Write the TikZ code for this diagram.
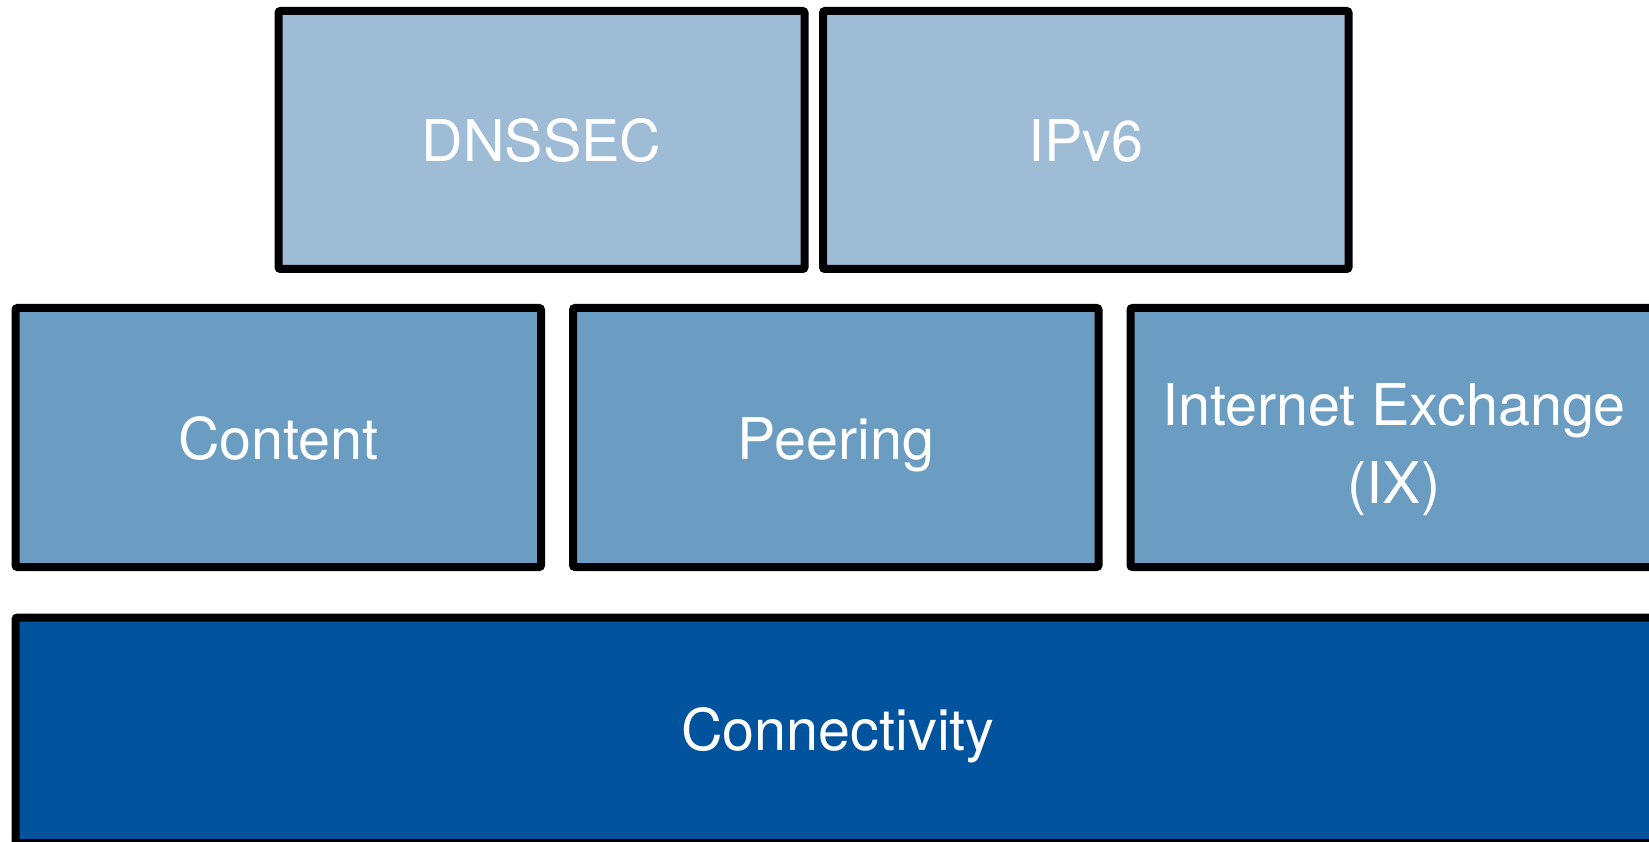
\documentclass[tikz,border=0pt]{standalone}
\usepackage{fontspec}
\setmainfont{TeX Gyre Heros}
\definecolor{topfill}{RGB}{158,188,214}
\definecolor{midfill}{RGB}{107,156,194}
\definecolor{botfill}{RGB}{0,83,156}
\tikzset{
  box/.style={draw=black, line width=8pt, rounded corners=2pt, inner sep=0pt, outer sep=0pt},
  lbl/.style={text=white, anchor=base, inner sep=0pt, font=\fontsize{57.5}{78}\selectfont}
}
\begin{document}
\begin{tikzpicture}[x=1pt,y=-1pt]
\useasboundingbox (0,0) rectangle (1649,842);
\clip (0,0) rectangle (1649,842);
% top row
\node[box, fill=topfill, minimum width=526pt, minimum height=258pt] (dnssec) at (541.5,140) {};
\node[box, fill=topfill, minimum width=525.5pt, minimum height=258pt] (ipv6) at (1085.75,140) {};
% middle row
\node[box, fill=midfill, minimum width=525.5pt, minimum height=259pt] (content) at (278.25,437.5) {};
\node[box, fill=midfill, minimum width=525.5pt, minimum height=259pt] (peering) at (835.75,437.5) {};
\node[box, fill=midfill, minimum width=527.5pt, minimum height=259pt] (ix) at (1394.25,437.5) {};
% bottom row
\node[box, fill=botfill, minimum width=1645.5pt, minimum height=225.5pt] (conn) at (838.25,730.25) {};
% labels
\node[lbl] (tdnssec) at (541.5,162) {DNSSEC};
\node[lbl] (tipv6) at (1085.75,162) {IPv6};
\node[lbl] (tcontent) at (278.25,459) {Content};
\node[lbl] (tpeering) at (835.75,459) {Peering};
\node[lbl] (tix1) at (1394,425) {Internet Exchange};
\node[lbl] (tix2) at (1394,503) {(IX)};
\node[lbl] (tconn) at (838,750) {Connectivity};
\end{tikzpicture}
\end{document}
